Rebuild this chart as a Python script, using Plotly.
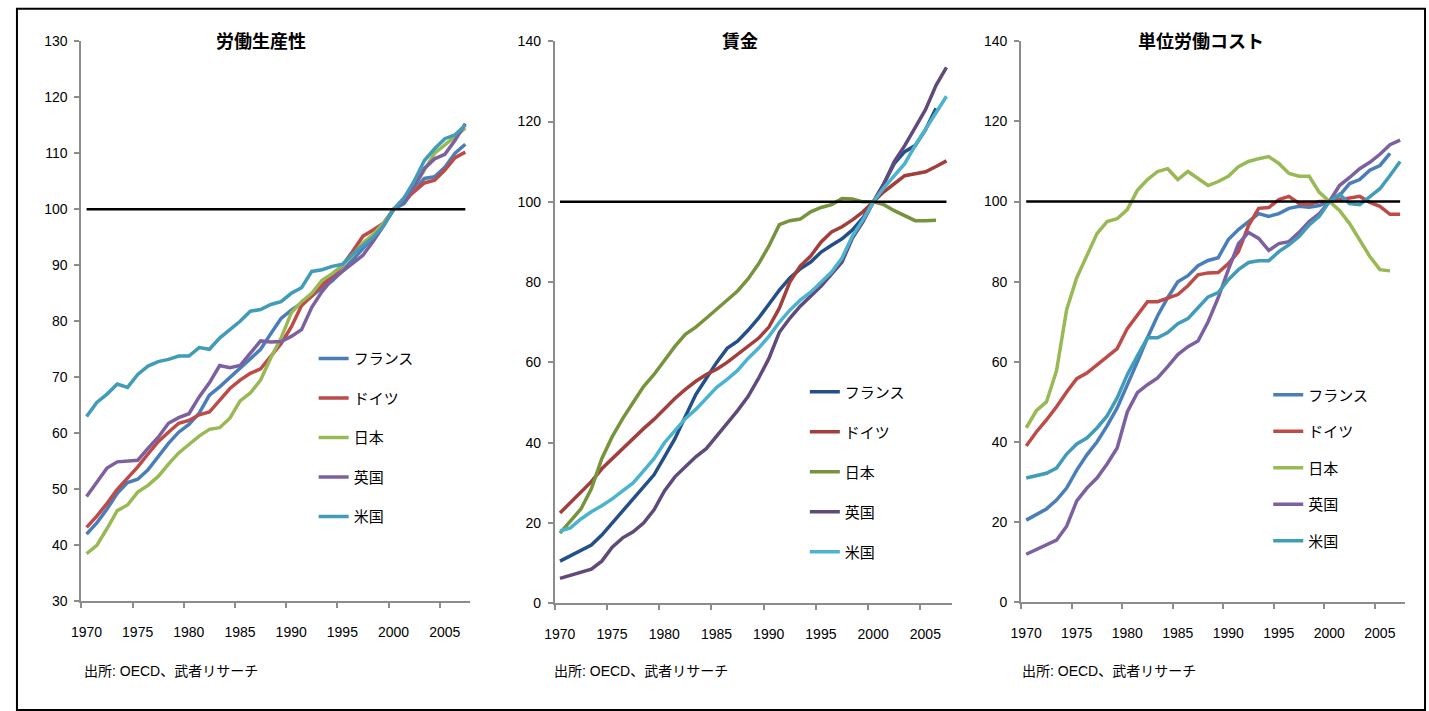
import plotly.graph_objects as go

W, H = 1429, 711
FONT = "Liberation Sans, Noto Sans CJK JP, sans-serif"

years = list(range(1970, 2008))
countries = ["フランス", "ドイツ", "日本", "英国", "米国"]
tick_years = ["1970", "1975", "1980", "1985", "1990", "1995", "2000", "2005"]
titles = ["労働生産性", "賃金", "単位労働コスト"]
source_note = "出所: OECD、武者リサーチ"

# ---- 労働生産性 (labour productivity, 2000=100)
prod_fr = [42.0, 44.0, 46.5, 49.3, 51.2, 51.8, 53.5, 55.8, 58.2, 60.2, 61.6, 63.6, 66.8, 68.3, 70.0,
           71.5, 73.4, 75.0, 77.8, 80.5, 82.0, 83.2, 84.5, 86.0, 87.2, 89.0, 91.0, 93.0, 95.0, 97.3,
           100.0, 101.0, 103.5, 105.5, 105.8, 107.5, 110.0, 111.6]
prod_de = [43.2, 45.2, 47.5, 50.0, 52.0, 54.0, 56.3, 58.5, 60.2, 61.8, 62.3, 63.3, 63.8, 66.0, 68.0,
           69.5, 70.7, 71.5, 73.8, 76.0, 79.0, 82.8, 84.5, 86.5, 88.0, 90.0, 92.5, 95.2, 96.3, 97.5,
           100.0, 101.5, 103.0, 104.7, 105.2, 107.0, 109.2, 110.2]
prod_jp = [38.5, 40.0, 43.0, 46.2, 47.2, 49.5, 50.7, 52.3, 54.5, 56.5, 58.0, 59.5, 60.7, 61.0, 62.7,
           65.8, 67.2, 69.5, 73.5, 77.0, 81.5, 83.5, 85.0, 87.3, 88.5, 90.0, 91.8, 94.0, 95.5, 97.5,
           100.0, 102.0, 104.0, 107.0, 110.0, 111.5, 113.0, 114.5]
prod_uk = [48.7, 51.3, 53.8, 54.9, 55.1, 55.2, 57.3, 59.3, 61.8, 62.8, 63.5, 66.5, 69.0, 72.1, 71.7,
           72.1, 74.3, 76.5, 76.3, 76.4, 77.3, 78.5, 82.5, 85.3, 87.5, 89.0, 90.5, 91.8, 94.3, 97.0,
           100.0, 101.5, 104.0, 107.3, 109.0, 109.8, 112.3, 115.3]
prod_us = [63.0, 65.5, 67.0, 68.8, 68.2, 70.5, 72.0, 72.8, 73.2, 73.8, 73.8, 75.3, 75.0, 77.0, 78.5,
           80.0, 81.8, 82.1, 83.0, 83.5, 85.0, 86.0, 88.9, 89.2, 89.8, 90.2, 92.0, 93.5, 95.0, 97.0,
           100.0, 102.0, 105.0, 108.7, 110.8, 112.6, 113.3, 115.0]

# ---- 賃金 (wages, 2000=100)
wage_fr = [10.5, 11.8, 13.2, 14.5, 17.0, 20.0, 23.0, 25.8, 28.8, 32.0, 36.5, 41.0, 46.5, 52.0, 56.0,
           60.0, 63.5, 65.3, 68.0, 71.0, 74.5, 78.0, 81.0, 83.3, 85.0, 87.5, 89.2, 90.8, 93.0, 96.0,
           100.0, 104.5, 109.5, 112.5, 114.0, 118.0, 123.3, None]
wage_de = [22.5, 25.0, 27.5, 30.3, 33.5, 36.0, 38.8, 41.3, 43.5, 45.8, 48.5, 51.0, 53.3, 55.3, 57.0,
           58.3, 60.0, 62.0, 64.0, 66.0, 68.8, 73.5, 80.0, 84.0, 86.5, 90.0, 92.5, 93.8, 95.5, 97.5,
           100.0, 102.5, 104.5, 106.5, 107.0, 107.5, 108.8, 110.2]
wage_jp = [17.5, 20.5, 23.5, 28.5, 36.0, 41.5, 46.0, 50.0, 54.0, 57.0, 60.5, 64.0, 67.0, 68.8, 71.0,
           73.3, 75.5, 77.8, 80.8, 84.5, 89.0, 94.3, 95.3, 95.7, 97.5, 98.6, 99.3, 100.8, 100.7, 100.0,
           100.0, 99.3, 97.8, 96.5, 95.3, 95.3, 95.4, None]
wage_uk = [6.2, 7.0, 7.8, 8.5, 10.5, 14.0, 16.3, 17.8, 20.0, 23.3, 28.0, 31.5, 34.0, 36.5, 38.5,
           41.5, 44.8, 48.0, 51.5, 56.0, 61.0, 67.5, 71.0, 74.0, 76.5, 79.0, 82.0, 85.0, 91.0, 95.0,
           100.0, 104.5, 110.0, 114.0, 118.5, 123.0, 129.0, 133.5]
wage_us = [18.0, 18.8, 21.0, 22.8, 24.3, 26.0, 28.0, 30.0, 33.0, 36.0, 40.0, 43.0, 46.0, 48.3, 51.0,
           53.8, 55.8, 58.0, 61.0, 63.5, 66.5, 70.0, 73.0, 75.5, 77.5, 80.0, 82.5, 86.0, 91.5, 95.5,
           100.0, 103.5, 106.5, 109.5, 114.0, 118.0, 122.0, 126.3]

# ---- 単位労働コスト (unit labour cost, 2000=100)
ulc_fr = [20.5, 22.0, 23.3, 25.5, 28.5, 33.0, 36.8, 40.0, 44.0, 48.5, 54.0, 60.0, 66.0, 71.5, 76.0,
          80.0, 81.5, 84.0, 85.3, 86.0, 90.5, 93.0, 95.0, 97.0, 96.3, 97.0, 98.3, 98.8, 98.6, 99.0,
          100.0, 101.5, 104.5, 105.5, 107.8, 109.0, 112.0, None]
ulc_de = [39.0, 42.5, 45.5, 48.8, 52.5, 55.8, 57.2, 59.2, 61.3, 63.3, 68.3, 71.5, 75.0, 75.0, 75.8,
          76.8, 79.0, 81.7, 82.2, 82.3, 84.5, 87.5, 94.0, 98.3, 98.5, 100.5, 101.3, 99.5, 99.3, 100.0,
          100.0, 100.5, 101.0, 101.3, 99.8, 98.8, 96.8, 96.8]
ulc_jp = [43.5, 47.8, 50.0, 57.8, 73.0, 81.0, 86.5, 92.0, 95.0, 95.7, 98.0, 102.8, 105.5, 107.5, 108.2,
          105.5, 107.5, 105.8, 104.0, 105.0, 106.3, 108.7, 110.0, 110.7, 111.2, 109.5, 107.0, 106.3, 106.3, 102.3,
          100.0, 97.8, 94.5, 90.3, 86.3, 83.0, 82.7, None]
ulc_uk = [12.0, 13.2, 14.3, 15.5, 19.0, 25.3, 28.5, 31.0, 34.5, 38.5, 47.5, 52.3, 54.3, 56.0, 58.8,
          61.8, 63.8, 65.2, 70.0, 76.0, 83.0, 89.5, 92.3, 90.8, 87.8, 89.5, 90.0, 92.3, 95.0, 97.0,
          100.0, 104.0, 106.0, 108.2, 109.8, 111.8, 114.2, 115.3]
ulc_us = [31.0, 31.5, 32.2, 33.5, 37.0, 39.5, 41.0, 43.5, 46.5, 51.0, 56.8, 61.5, 66.0, 66.0, 67.3,
          69.5, 70.8, 73.5, 76.2, 77.3, 80.5, 83.0, 84.8, 85.2, 85.2, 87.5, 89.2, 91.3, 94.2, 96.3,
          100.0, 101.8, 99.5, 99.2, 101.2, 103.2, 106.5, 110.0]

baseline = [100] * len(years)

panels = [
    dict(series=[prod_fr, prod_de, prod_jp, prod_uk, prod_us],
         colors=["#4A7EBB", "#BE4B48", "#98B954", "#7D60A0", "#409CB8"],
         px_x=(71, 463), px_y=(34, 607), yrange=(30, 130), dtick=10,
         legend=dict(x=305, y=342, gap=17), note_x=72, title_x=252),
    dict(series=[wage_fr, wage_de, wage_jp, wage_uk, wage_us],
         colors=["#24508A", "#A23E3B", "#77933C", "#604A7B", "#4BB3CF"],
         px_x=(548, 948), px_y=(34, 609), yrange=(0, 140), dtick=20,
         legend=dict(x=800, y=376, gap=17.5), note_x=545, title_x=735),
    dict(series=[ulc_fr, ulc_de, ulc_jp, ulc_uk, ulc_us],
         colors=["#4A7EBB", "#BE4B48", "#98B954", "#7D60A0", "#409CB8"],
         px_x=(1018, 1405), px_y=(34, 608), yrange=(0, 140), dtick=20,
         legend=dict(x=1267, y=379, gap=14), note_x=1017, title_x=1199),
]

fig = go.Figure()
layout = dict(width=W, height=H, margin=dict(l=0, r=0, t=0, b=0),
              paper_bgcolor="white", plot_bgcolor="white",
              font=dict(family=FONT, size=14, color="black"),
              annotations=[], shapes=[])

for k, p in enumerate(panels):
    n = "" if k == 0 else str(k + 1)
    xa, ya = "x" + n, "y" + n
    leg = "legend" + n
    for name, vals, col in zip(countries, p["series"], p["colors"]):
        fig.add_trace(go.Scatter(x=years, y=vals, name=name, mode="lines",
                                 line=dict(color=col, width=3.5),
                                 xaxis=xa, yaxis=ya, legend=leg,
                                 legendgroup=f"{k}_{name}", connectgaps=False))
    fig.add_trace(go.Scatter(x=years, y=baseline, mode="lines", showlegend=False,
                             line=dict(color="black", width=2.5), xaxis=xa, yaxis=ya,
                             hoverinfo="skip"))
    x0, x1 = p["px_x"]
    yt, yb = p["px_y"]
    cat_px = (x1 - x0) / 38.0
    layout["xaxis" + n] = dict(
        domain=[x0 / W, x1 / W], anchor=ya, range=[1969.5, 2007.5],
        tickmode="array", tickvals=[1969.5 + 5 * i for i in range(8)], ticktext=tick_years,
        ticklabelshift=int(round(cat_px / 2)), ticklabelstandoff=12,
        ticks="outside", ticklen=5, tickwidth=2, tickcolor="#8C8C8C",
        showline=True, linecolor="#8C8C8C", linewidth=2, showgrid=False, zeroline=False,
        tickfont=dict(size=14, color="black"), fixedrange=True)
    layout["yaxis" + n] = dict(
        domain=[1 - yb / H, 1 - yt / H], anchor=xa, range=list(p["yrange"]), dtick=p["dtick"],
        tick0=p["yrange"][0], ticks="outside", ticklen=5, tickwidth=2, tickcolor="#8C8C8C",
        ticklabelstandoff=4,
        showline=True, linecolor="#8C8C8C", linewidth=2, showgrid=False, zeroline=False,
        tickfont=dict(size=14, color="black"), fixedrange=True)
    lg = p["legend"]
    layout[leg] = dict(x=lg["x"] / W, y=1 - lg["y"] / H, xanchor="left", yanchor="top",
                       bgcolor="rgba(0,0,0,0)", font=dict(size=15, color="black"),
                       tracegroupgap=lg["gap"], traceorder="grouped")
    layout["annotations"].append(dict(
        x=p["title_x"] / W, y=1 - 33 / H, xref="paper", yref="paper",
        text="<b>" + titles[k] + "</b>", showarrow=False, xanchor="center", yanchor="middle",
        font=dict(size=18, color="black", family="Noto Sans CJK JP")))
    layout["annotations"].append(dict(
        x=p["note_x"] / W, y=1 - 678 / H, xref="paper", yref="paper",
        text=source_note, showarrow=False, xanchor="left", yanchor="middle",
        font=dict(size=14, color="black")))

layout["shapes"].append(dict(type="rect", xref="paper", yref="paper",
                             x0=6 / W, x1=1425 / W, y0=-0.01, y1=0.999,
                             line=dict(color="black", width=2), fillcolor="rgba(0,0,0,0)"))

fig.update_layout(**layout)
post = ("document.documentElement.style.margin='0';document.documentElement.style.padding='0';"
        "document.body.style.margin='0';document.body.style.padding='0';"
        "document.body.style.overflow='hidden';"
        "var d=document.getElementById('{plot_id}');"
        "d.style.position='fixed';d.style.left='0px';d.style.top='0px';")
fig.write_html("out.html", config={"displayModeBar": False}, post_script=post)
